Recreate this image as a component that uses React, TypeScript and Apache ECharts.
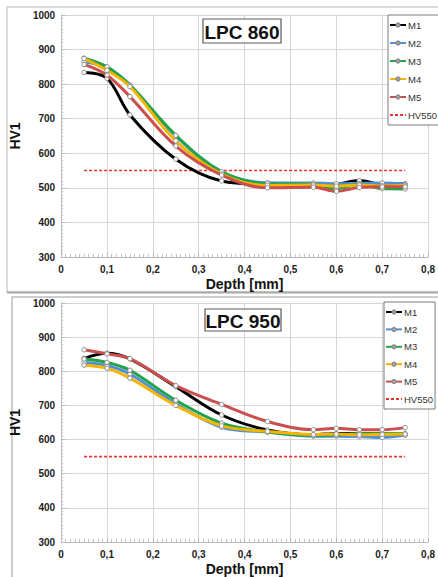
import React, { useEffect, useRef } from "react";
import * as echarts from "echarts";

const depth = [0.05, 0.1, 0.15, 0.25, 0.35, 0.45, 0.55, 0.6, 0.65, 0.7, 0.75];
const seriesNames = ["M1", "M2", "M3", "M4", "M5"];
const limitName = "HV550";
const limitValue = 550;
const limitRange = [0.05, 0.75];

const lpc860M1 = [834, 817, 711, 583, 520, 510, 508, 510, 521, 510, 512];
const lpc860M2 = [865, 848, 797, 650, 545, 515, 514, 512, 513, 514, 510];
const lpc860M3 = [875, 850, 797, 652, 547, 512, 510, 498, 510, 498, 497];
const lpc860M4 = [874, 840, 793, 636, 540, 507, 508, 505, 508, 506, 507];
const lpc860M5 = [857, 826, 764, 621, 537, 500, 502, 490, 501, 503, 503];

const lpc950M1 = [838, 853, 836, 755, 672, 628, 614, 618, 617, 618, 614];
const lpc950M2 = [826, 817, 792, 705, 636, 622, 610, 610, 609, 606, 613];
const lpc950M3 = [836, 826, 803, 715, 648, 622, 612, 614, 617, 618, 618];
const lpc950M4 = [818, 809, 780, 700, 640, 624, 615, 616, 614, 615, 616];
const lpc950M5 = [863, 851, 837, 758, 703, 653, 629, 633, 629, 629, 635];

const titles = ["LPC 860", "LPC 950"];
const colors = ["#000000", "#4f91d6", "#21a34c", "#f5b400", "#c9504e"];
const limitColor = "#e8362e";

export default function App() {
  const ref = useRef<HTMLDivElement>(null);
  useEffect(() => {
    if (!ref.current) return;
    const chart = echarts.init(ref.current, null, { renderer: "svg" });
    const font = "Arial, 'Liberation Sans', sans-serif";
    const grids = [
      { left: 53, right: 4, top: 15, height: 242 },
      { left: 56, right: 7, top: 303, height: 243 },
    ];
    const legendTops = [15, 302];
    const legendLefts = [388, 384];
    const legendGaps = [8, 7.4];
    const yNameGaps = [23, 24];
    const titleBoxes = [
      { x: 203, y: 19, w: 78, h: 24 },
      { x: 205, y: 309, w: 76, h: 22 },
    ];
    const sets = [
      [lpc860M1, lpc860M2, lpc860M3, lpc860M4, lpc860M5],
      [lpc950M1, lpc950M2, lpc950M3, lpc950M4, lpc950M5],
    ];
    const xAxes: any[] = [];
    const yAxes: any[] = [];
    const series: any[] = [];
    const legends: any[] = [];
    grids.forEach((g, gi) => {
      xAxes.push({
        type: "value",
        gridIndex: gi,
        min: 0,
        max: 0.8,
        interval: 0.1,
        name: "Depth [mm]",
        nameLocation: "middle",
        nameGap: 20,
        nameTextStyle: { fontFamily: font, fontWeight: "bold", fontSize: 14, color: "#111" },
        axisLine: { show: true, lineStyle: { color: "#b8b8b8", width: 1 } },
        axisTick: { show: true, inside: true, length: 4, lineStyle: { color: "#b8b8b8" } },
        minorTick: { show: true, splitNumber: 10, length: 3, lineStyle: { color: "#c4c4c4" } },
        splitLine: { show: true, lineStyle: { color: "#d6d6d6", width: 1 } },
        axisLabel: {
          fontFamily: font,
          fontWeight: "bold",
          fontSize: 10,
          color: "#222",
          margin: 7,
          formatter: (v: number) => (Math.round(v * 10) / 10).toString().replace(".", ","),
        },
      });
      yAxes.push({
        type: "value",
        gridIndex: gi,
        min: 300,
        max: 1000,
        interval: 100,
        name: "HV1",
        nameLocation: "middle",
        nameRotate: 90,
        nameGap: yNameGaps[gi],
        nameTextStyle: { fontFamily: font, fontWeight: "bold", fontSize: 14, color: "#111" },
        axisLine: { show: true, lineStyle: { color: "#b8b8b8", width: 1 } },
        axisTick: { show: true, inside: true, length: 4, lineStyle: { color: "#b8b8b8" } },
        minorTick: { show: true, splitNumber: 10, length: 2, lineStyle: { color: "#c4c4c4" } },
        splitLine: { show: true, lineStyle: { color: "#d6d6d6", width: 1 } },
        axisLabel: {
          fontFamily: font,
          fontWeight: "bold",
          fontSize: 10,
          color: "#222",
          margin: 6,
          formatter: (v: number) => String(v),
        },
      });
      sets[gi].forEach((vals, si) => {
        series.push({
          type: "line",
          name: seriesNames[si],
          xAxisIndex: gi,
          yAxisIndex: gi,
          data: depth.map((d, i) => [d, vals[i]]),
          smooth: 0.35,
          symbol: "circle",
          symbolSize: 4.5,
          showSymbol: true,
          lineStyle: { color: colors[si], width: 3 },
          itemStyle: { color: "#ffffff", borderColor: "#8a8a8a", borderWidth: 1 },
          emphasis: { disabled: true },
          z: 3 + si,
        });
      });
      series.push({
        type: "line",
        name: limitName,
        xAxisIndex: gi,
        yAxisIndex: gi,
        data: limitRange.map((d) => [d, limitValue]),
        symbol: "none",
        lineStyle: { color: limitColor, width: 1.6, type: [3, 2] },
        itemStyle: { color: limitColor },
        emphasis: { disabled: true },
        z: 2,
      });
      legends.push({
        orient: "vertical",
        left: legendLefts[gi],
        top: legendTops[gi],
        padding: [5, 2, 5, 1],
        itemGap: legendGaps[gi],
        itemWidth: 16,
        itemHeight: 4,
        backgroundColor: "#ffffff",
        borderColor: "#7a7a7a",
        borderWidth: 1,
        data: [
          ...seriesNames.map((n) => ({ name: n })),
          { name: limitName, itemStyle: { opacity: 0 } },
        ],
        textStyle: { fontFamily: font, fontSize: 9.5, color: "#333", padding: [0, 0, 0, -3] },
        selectedMode: false,
      });
    });
    const graphics: any[] = [
      {
        type: "rect",
        shape: { x: 7, y: 7, width: 440, height: 285 },
        style: { fill: "none", stroke: "#cfcfcf", lineWidth: 1.5 },
        z: -1,
      },
      {
        type: "line",
        shape: { x1: 7, y1: 292.5, x2: 438, y2: 292.5 },
        style: { stroke: "#a8a8a8", lineWidth: 2 },
        z: -1,
      },
      {
        type: "rect",
        shape: { x: 12, y: 297, width: 440, height: 300 },
        style: { fill: "none", stroke: "#bdbdbd", lineWidth: 1.5 },
        z: -1,
      },
    ];
    titleBoxes.forEach((b, i) => {
      graphics.push({
        type: "rect",
        shape: { x: b.x, y: b.y, width: b.w, height: b.h },
        style: { fill: "#ffffff", stroke: "#5a5a5a", lineWidth: 1.2 },
        z: 50,
      });
      graphics.push({
        type: "text",
        x: b.x + b.w / 2,
        y: b.y + b.h / 2 + 1,
        style: {
          text: titles[i],
          fontFamily: font,
          fontWeight: "bold",
          fontSize: 19,
          fill: "#111",
          align: "center",
          verticalAlign: "middle",
        },
        z: 51,
      });
    });
    chart.setOption({
      animation: false,
      backgroundColor: "#ffffff",
      grid: grids.map((g) => ({ ...g, containLabel: false })),
      xAxis: xAxes,
      yAxis: yAxes,
      legend: legends,
      series,
      graphic: { elements: graphics },
    });
    return () => chart.dispose();
  }, []);
  return (
    <div
      ref={ref}
      style={{ position: "fixed", left: 0, top: 0, width: 438, height: 577, background: "#fff" }}
    />
  );
}
